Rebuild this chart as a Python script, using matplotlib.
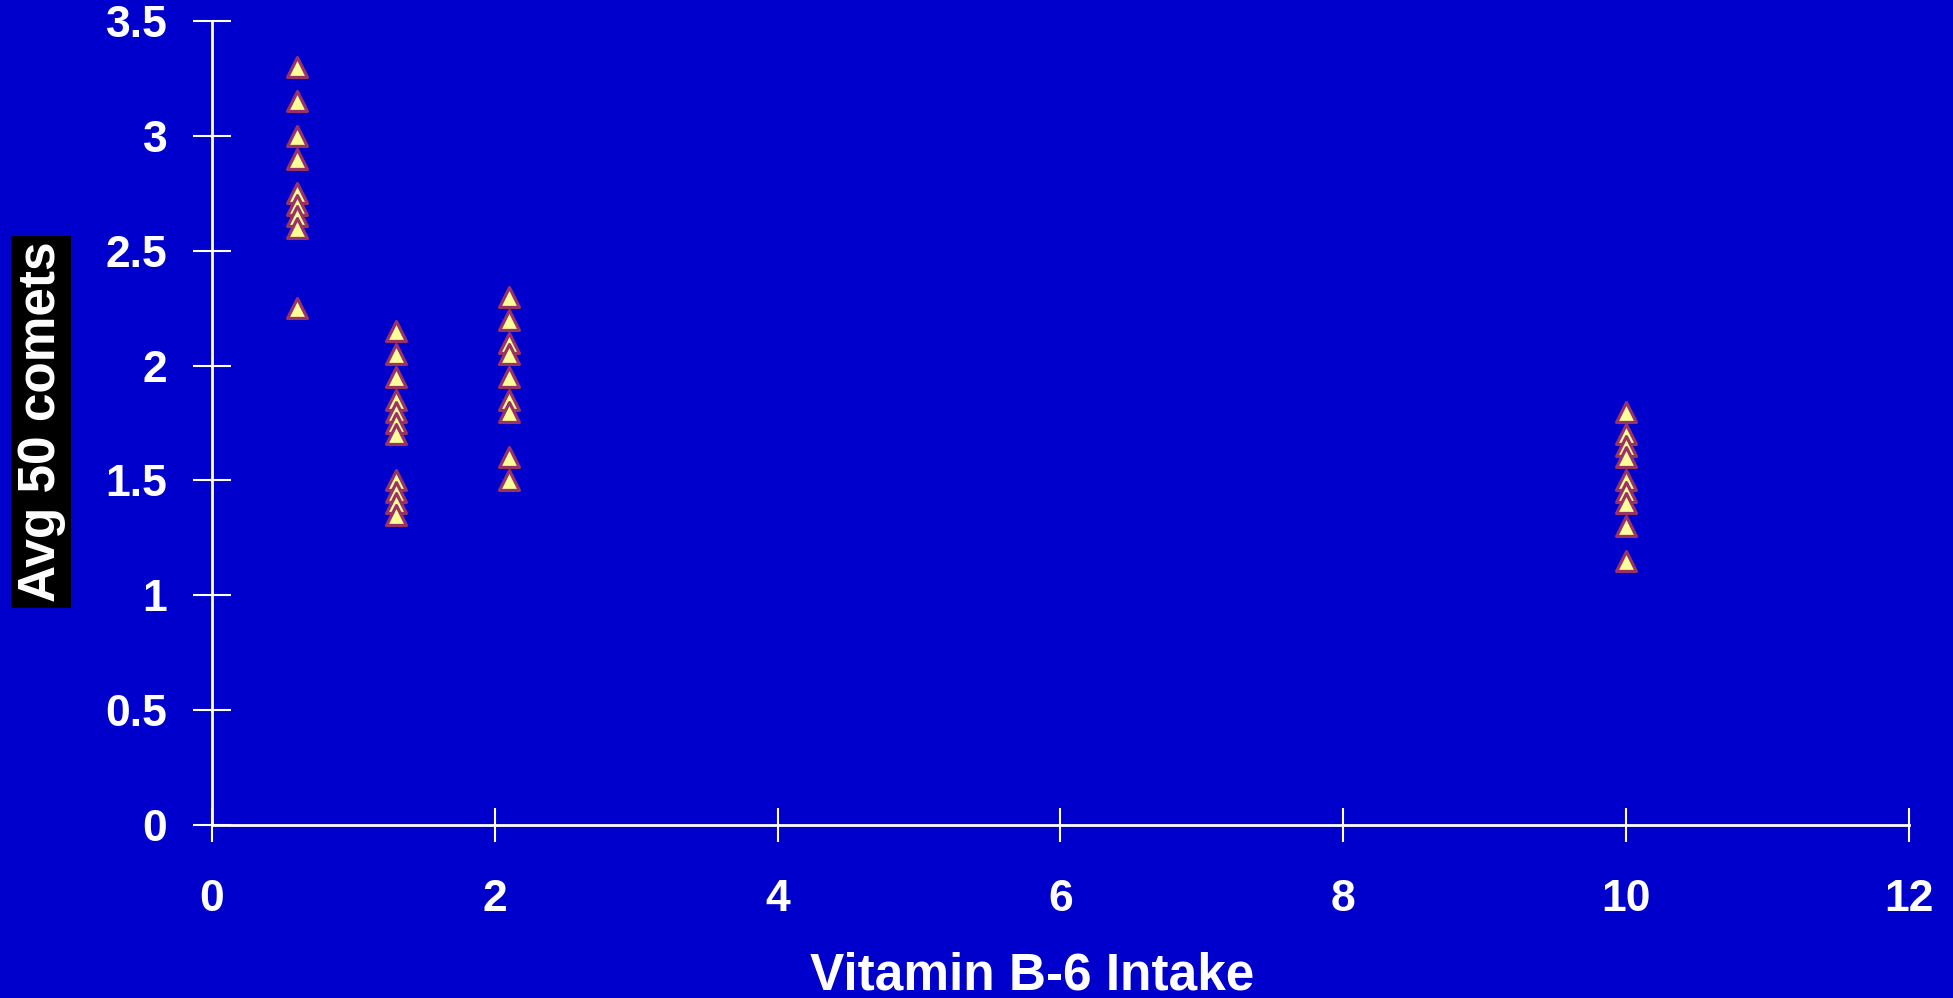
import matplotlib
matplotlib.use('Agg')
import matplotlib.pyplot as plt

#---------------------------------------------------------------------#
# Avg comet score vs vitamin B-6 intake, one column of points per dose #
#---------------------------------------------------------------------#
intake = [0.6, 1.3, 2.1, 10]
comets_06 = [3.3, 3.15, 3.0, 2.9, 2.75, 2.7, 2.65, 2.6, 2.25]
comets_13 = [2.15, 2.05, 1.95, 1.85, 1.8, 1.75, 1.7, 1.5, 1.45, 1.4, 1.35]
comets_21 = [2.3, 2.2, 2.1, 2.05, 1.95, 1.85, 1.8, 1.6, 1.5]
comets_10 = [1.8, 1.7, 1.65, 1.6, 1.5, 1.45, 1.4, 1.3, 1.15]
groups = [comets_06, comets_13, comets_21, comets_10]

xticks = [0, 2, 4, 6, 8, 10, 12]
yticks = [0, 0.5, 1, 1.5, 2, 2.5, 3, 3.5]
ytickLabels = ['0', '0.5', '1', '1.5', '2', '2.5', '3', '3.5']

bg = '#0000CC'
plt.rcParams['font.family'] = ['Liberation Sans', 'DejaVu Sans']
plt.rcParams['font.weight'] = 'bold'

fig = plt.figure(figsize=(19.53, 9.98), dpi=100, facecolor=bg)
ax = fig.add_axes([0.1085, 0.1733, 0.869, 0.8057], facecolor=bg)

for x, vals in zip(intake, groups):
  ax.scatter([x] * len(vals), vals, marker='^', s=205, facecolor='#FFFF99',
             edgecolor='#993366', linewidths=2.3, zorder=3, clip_on=False)

ax.set_xlim(0, 12)
ax.set_ylim(0, 3.5)
ax.set_xticks(xticks)
ax.set_yticks(yticks)
ax.set_yticklabels(ytickLabels)

for side in ['top', 'right']:
  ax.spines[side].set_visible(False)
for side in ['left', 'bottom']:
  ax.spines[side].set_color('white')
  ax.spines[side].set_linewidth(2)

ax.tick_params(axis='both', colors='white', direction='inout', width=1.5,
               labelsize=32)
ax.tick_params(axis='y', length=28, pad=18)
ax.tick_params(axis='x', length=25, pad=26)

ax.set_xlabel('Vitamin B-6 Intake', fontsize=37, fontweight='bold',
              color='white')
ax.xaxis.set_label_coords(0.483, -0.157)

fig.text(0.021, 0.577, 'Avg 50 comets', rotation=90, fontsize=37,
         fontweight='bold', color='white', ha='center', va='center',
         bbox=dict(facecolor='black', edgecolor='none', pad=4))

plt.savefig('out.png', dpi=100, facecolor=bg)
